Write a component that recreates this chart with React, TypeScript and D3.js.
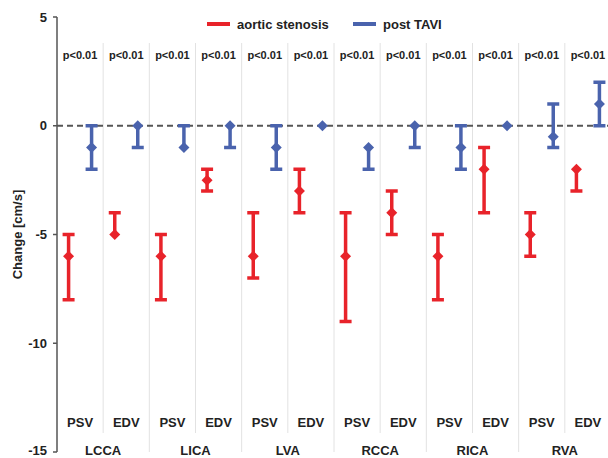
import React from "react";
import * as d3 from "d3";

const groups = ["LCCA", "LICA", "LVA", "RCCA", "RICA", "RVA"];
const measures = ["PSV", "EDV"];
const pLabels = ["p<0.01", "p<0.01", "p<0.01", "p<0.01", "p<0.01", "p<0.01", "p<0.01", "p<0.01", "p<0.01", "p<0.01", "p<0.01", "p<0.01"];
const yTicks = [5, 0, -5, -10, -15];

const asMean = [-6, -5, -6, -2.5, -6, -3, -6, -4, -6, -2, -5, -2];
const asLow = [-8, -5, -8, -3, -7, -4, -9, -5, -8, -4, -6, -3];
const asHigh = [-5, -4, -5, -2, -4, -2, -4, -3, -5, -1, -4, -2];

const taviMean = [-1, 0, -1, 0, -1, 0, -1, 0, -1, 0, -0.5, 1];
const taviLow = [-2, -1, -1, -1, -2, 0, -2, -1, -2, 0, -1, 0];
const taviHigh = [0, 0, 0, 0, 0, 0, -1, 0, 0, 0, 1, 2];

const RED = "#e8232a";
const BLUE = "#4a63ad";
const TXT = "#222";
const FONT = "'Liberation Sans', Arial, sans-serif";

export default function App() {
  const W = 608, H = 458;
  const left = 57, right = 611, top = 17, bottom = 452;
  const cols = groups.flatMap((g) => measures.map((m) => `${g}-${m}`));
  const x = d3.scaleBand<string>().domain(cols).range([left, right]).padding(0);
  const y = d3.scaleLinear().domain([-15, 5]).range([bottom, top]);
  const bw = x.bandwidth();

  const series = [
    { name: "aortic stenosis", color: RED, mean: asMean, low: asLow, high: asHigh, off: -11.5 },
    { name: "post TAVI", color: BLUE, mean: taviMean, low: taviLow, high: taviHigh, off: 11.5 },
  ];

  const diamond = (cx: number, cy: number, r: number) =>
    `M${cx},${cy - r}L${cx + r},${cy}L${cx},${cy + r}L${cx - r},${cy}Z`;

  return (
    <svg width={W} height={H} style={{ display: "block", position: "absolute", left: 0, top: 0 }} fontFamily={FONT}>
      <rect width={W} height={H} fill="#fff" />
      {/* separators */}
      {cols.map((c, i) =>
        i === 0 ? null : (
          <line
            key={c}
            x1={x(c)!}
            x2={x(c)!}
            y1={43}
            y2={i % 2 === 0 ? bottom : 433}
            stroke="#e2e2e2"
            strokeWidth={1}
          />
        )
      )}
      {/* zero line */}
      <line x1={left} x2={W} y1={y(0)} y2={y(0)} stroke="#555" strokeWidth={2} strokeDasharray="6,4" />
      {/* y axis */}
      <line x1={left} x2={left} y1={top} y2={bottom} stroke="#555" strokeWidth={1.5} />
      {yTicks.map((t) => (
        <g key={t}>
          <line x1={left - 4} x2={left} y1={y(t)} y2={y(t)} stroke="#555" strokeWidth={1.5} />
          <text
            x={left - 10}
            y={Math.min(y(t), H - 8)}
            dy="0.36em"
            textAnchor="end"
            fontSize={13}
            fontWeight="bold"
            fill={TXT}
          >
            {t}
          </text>
        </g>
      ))}
      <text
        transform={`translate(22,${(top + bottom) / 2}) rotate(-90)`}
        textAnchor="middle"
        fontSize={13}
        fontWeight="bold"
        fill={TXT}
      >
        Change [cm/s]
      </text>
      {/* p labels */}
      {cols.map((c, i) => (
        <text key={c} x={x(c)! + bw / 2} y={59} textAnchor="middle" fontSize={11} fontWeight="bold" fill={TXT}>
          {pLabels[i]}
        </text>
      ))}
      {/* error bars */}
      {series.map((s) =>
        cols.map((c, i) => {
          const cx = x(c)! + bw / 2 + s.off;
          const cw = 6;
          return (
            <g key={s.name + c}>
              {s.low[i] !== s.high[i] && (
                <line x1={cx} x2={cx} y1={y(s.low[i])} y2={y(s.high[i])} stroke={s.color} strokeWidth={3.5} />
              )}
              {s.low[i] !== s.mean[i] && (
                <line x1={cx - cw} x2={cx + cw} y1={y(s.low[i])} y2={y(s.low[i])} stroke={s.color} strokeWidth={3.5} />
              )}
              {s.high[i] !== s.mean[i] && (
                <line x1={cx - cw} x2={cx + cw} y1={y(s.high[i])} y2={y(s.high[i])} stroke={s.color} strokeWidth={3.5} />
              )}
              <path d={diamond(cx, y(s.mean[i]), 5.5)} fill={s.color} />
            </g>
          );
        })
      )}
      {/* bottom labels */}
      {cols.map((c, i) => (
        <text key={c} x={x(c)! + bw / 2} y={427} textAnchor="middle" fontSize={13} fontWeight="bold" fill={TXT}>
          {measures[i % 2]}
        </text>
      ))}
      {groups.map((g) => (
        <text
          key={g}
          x={x(`${g}-PSV`)! + bw}
          y={455}
          textAnchor="middle"
          fontSize={13}
          fontWeight="bold"
          fill={TXT}
        >
          {g}
        </text>
      ))}
      {/* legend */}
      {series.map((s, i) => {
        const lx = i === 0 ? 207 : 353;
        return (
          <g key={s.name}>
            <line x1={lx} x2={lx + 23} y1={24} y2={24} stroke={s.color} strokeWidth={4} />
            <text x={lx + 30} y={24} dy="0.36em" fontSize={13} fontWeight="bold" fill={TXT}>
              {s.name}
            </text>
          </g>
        );
      })}
    </svg>
  );
}
